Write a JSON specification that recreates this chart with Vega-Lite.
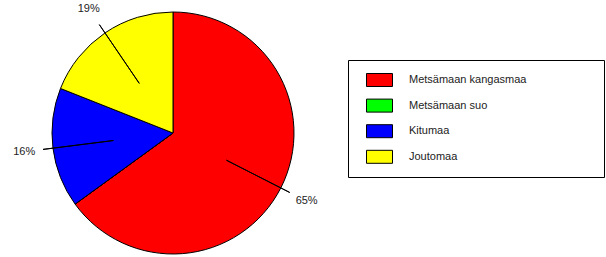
{
 "$schema": "https://vega.github.io/schema/vega-lite/v6.json",
 "width": 346, "height": 248,
 "autosize": {"type": "none"},
 "padding": {"left": 0, "top": 9, "right": 260, "bottom": 0},
 "background": "white",
 "config": {"view": {"stroke": null}},
 "data": {"values": [
   {"class": "Metsämaan kangasmaa", "value": 65, "order": 1},
   {"class": "Metsämaan suo", "value": 0, "order": 2},
   {"class": "Kitumaa", "value": 16, "order": 3},
   {"class": "Joutomaa", "value": 19, "order": 4}
 ]},
 "transform": [
   {"stack": "value", "groupby": [], "sort": [{"field": "order", "order": "ascending"}], "as": ["v0", "v1"]},
   {"calculate": "(datum.v0 + datum.v1) / 2", "as": "mid"},
   {"calculate": "datum.value + '%'", "as": "label"}
 ],
 "layer": [
   {
     "mark": {"type": "arc", "radius": 121, "stroke": "black", "strokeWidth": 1},
     "encoding": {
       "theta": {"field": "v0", "type": "quantitative", "scale": {"domain": [0, 100]}},
       "theta2": {"field": "v1"},
       "color": {
         "field": "class", "type": "nominal",
         "sort": ["Metsämaan kangasmaa", "Metsämaan suo", "Kitumaa", "Joutomaa"],
         "scale": {"domain": ["Metsämaan kangasmaa", "Metsämaan suo", "Kitumaa", "Joutomaa"], "range": ["#ff0000", "#00ff00", "#0000ff", "#ffff00"]},
         "legend": {
           "orient": "none", "legendX": 348, "legendY": 51,
           "title": "\u200b\u2003\u2003\u2003\u2003\u2003\u2003\u2003\u2003\u2003\u2003\u2003\u2003\u2003\u2003\u2003\u2003\u2003\u2003\u2003\u2003\u2003\u2003\u2003\u2003\u2003\u2003\u2003\u2003\u2003\u2003\u2003\u2003\u2003\u2003\u2003\u2003\u2003\u2003\u2003\u2003\u2003\u2003\u2003\u2003\u2003\u2003\u2003\u2003\u200b",
           "titleOrient": "bottom", "titleFontSize": 5.05, "titlePadding": -1, "titleLimit": 400,
           "titleFont": "Liberation Sans",
           "symbolType": "M-1,-0.5H1V0.5H-1Z", "symbolSize": 676, "symbolOffset": 11.5,
           "symbolStrokeColor": "black", "symbolStrokeWidth": 1, "symbolOpacity": 1,
           "labelFont": "Liberation Sans", "labelFontSize": 11, "labelColor": "#222",
           "labelOffset": 16, "padding": 6.5, "strokeColor": "black", "fillColor": "white",
           "rowPadding": 3.6
         }
       }
     }
   },
   {
     "transform": [{"filter": "datum.value > 0"}],
     "mark": {"type": "arc", "radius": 131, "radius2": 60, "stroke": "black", "strokeWidth": 1, "filled": false},
     "encoding": {
       "theta": {"field": "mid", "type": "quantitative"},
       "theta2": {"field": "mid"}
     }
   },
   {
     "transform": [{"filter": "datum.value > 0"}],
     "mark": {"type": "text", "radius": 150, "font": "Liberation Sans", "fontSize": 11, "fill": "#222", "align": "center", "baseline": "middle"},
     "encoding": {
       "theta": {"field": "mid", "type": "quantitative"},
       "text": {"field": "label"}
     }
   }
 ]
}
